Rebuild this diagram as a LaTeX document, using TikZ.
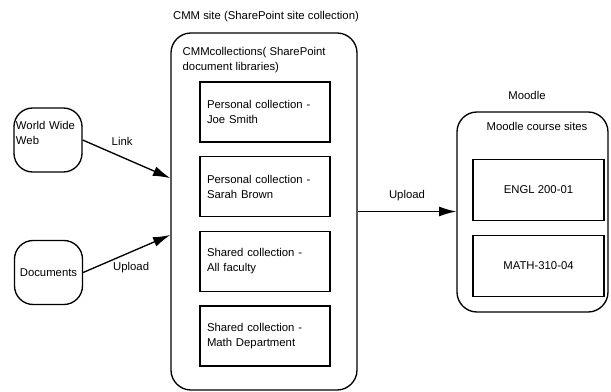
\documentclass[tikz,border=0pt]{standalone}
\usepackage{fontspec}
\setmainfont{Liberation Sans}
\usetikzlibrary{arrows.meta,positioning}

\begin{document}
\begin{tikzpicture}[x=0.75pt,y=-0.75pt,>={Latex[length=13pt,width=7.5pt]},line width=1pt,
        font=\fontsize{8.5}{11.25}\selectfont,
        src/.style={draw, rounded corners=14pt, minimum width=51pt, minimum height=48pt, inner xsep=1.5pt},
        site/.style={draw, rounded corners=15pt},
        coll/.style={draw, minimum width=97.5pt, minimum height=45pt, text width=87pt, align=left, inner xsep=5.25pt},
        crs/.style={draw, minimum width=98.25pt, minimum height=46pt}]
        \useasboundingbox (0,0) rectangle (611,392);
        % sources
        \node (web) [src, text width=48pt, align=left] at (48,140) {World Wide\\Web\\\mbox{}};
        \node (docs) [src] at (48.5,272.5) {Documents};
        % CMM site
        \node (cmmlabel) at (266,17) {CMM site (SharePoint site collection)};
        \node (cmm) [site, minimum width=139.5pt, minimum height=267.75pt] at (264,211.5) {};
        \node (cmmtitle) [anchor=west, align=left, inner sep=0pt] at (182,60.5) {CMMcollections( SharePoint\\document libraries)};
        \node (joe) [coll] at (265,112) {Personal collection -\\Joe Smith};
        \node (sarah) [coll, below=10pt of joe] {Personal collection -\\Sarah Brown};
        \node (faculty) [coll, below=10pt of sarah] {Shared collection -\\All faculty};
        \node (math) [coll, below=10pt of faculty] {Shared collection -\\Math Department};
        % Moodle
        \node (moodlelabel) at (527,95) {Moodle};
        \node (moodle) [site, minimum width=113.25pt, minimum height=150pt] at (532.5,212) {};
        \node (moodletitle) at (537,126) {Moodle course sites};
        \node (engl) [crs] at (538.5,190) {ENGL 200-01};
        \node (mathc) [crs, below=10pt of engl] {MATH-310-04};
        % connectors
        \draw[->] (web.east) -- node[above=5pt, pos=0.45]{Link} ([yshift=25pt]cmm.west);
        \draw[->] (docs.east) -- node[below=4pt, pos=0.55]{Upload} ([yshift=-17.6pt]cmm.west);
        \draw[->] (cmm.east) -- node[above=4pt]{Upload} (cmm.east -| moodle.west);
\end{tikzpicture}
\end{document}
